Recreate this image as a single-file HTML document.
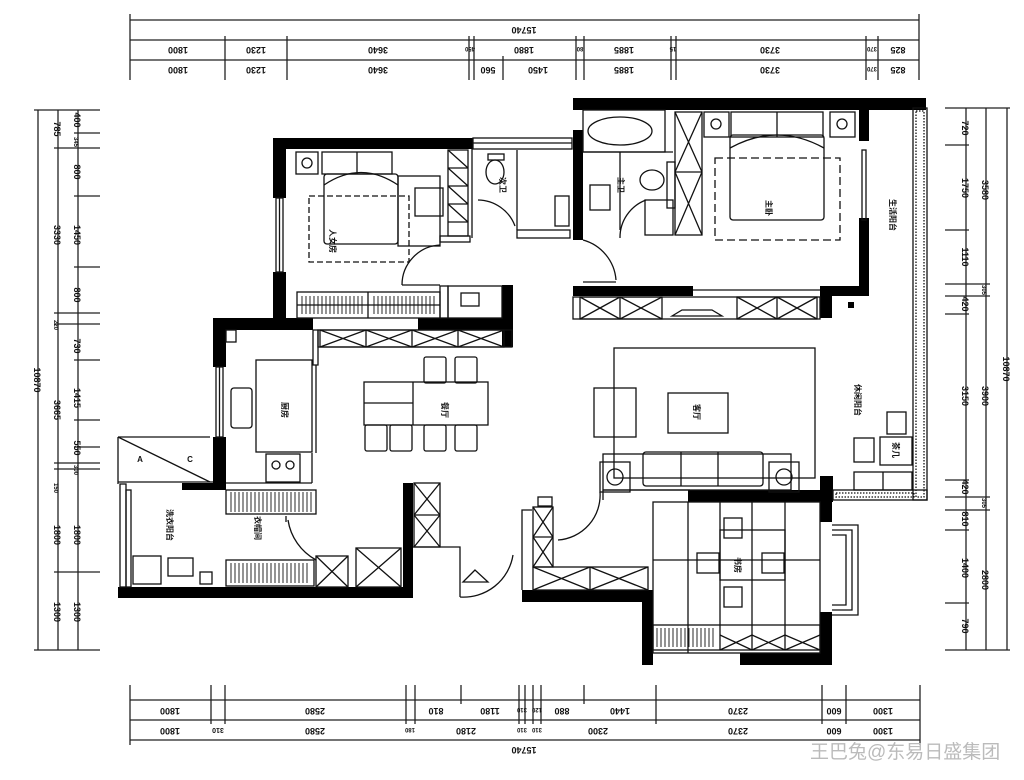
<!DOCTYPE html>
<html><head><meta charset="utf-8"><style>
html,body{margin:0;padding:0;background:#fff;}
svg{display:block;}
.d{font-family:"Liberation Sans",sans-serif;font-size:9px;font-weight:bold;fill:#111;}
.r{font-family:"Liberation Sans","Noto Sans CJK SC",sans-serif;font-size:8px;font-weight:bold;fill:#111;}
</style></head><body>
<svg width="1024" height="780" viewBox="0 0 1024 780" xmlns="http://www.w3.org/2000/svg">
<rect width="1024" height="780" fill="#fff"/>
<g stroke="#222" stroke-width="1.3" fill="none">
<line x1="130" y1="20" x2="919" y2="20"/>
<line x1="130" y1="40" x2="919" y2="40"/>
<line x1="130" y1="60" x2="919" y2="60"/>
<line x1="130" y1="14" x2="130" y2="80"/><line x1="919" y1="14" x2="919" y2="80"/>
<line x1="225" y1="36" x2="225" y2="80"/><line x1="287" y1="36" x2="287" y2="80"/>
<line x1="469" y1="36" x2="469" y2="80"/><line x1="474" y1="36" x2="474" y2="80"/>
<line x1="503" y1="56" x2="503" y2="80"/>
<line x1="576" y1="36" x2="576" y2="80"/><line x1="584" y1="36" x2="584" y2="80"/>
<line x1="671" y1="36" x2="671" y2="80"/><line x1="676" y1="36" x2="676" y2="80"/>
<line x1="866" y1="36" x2="866" y2="80"/><line x1="878" y1="36" x2="878" y2="80"/>
<line x1="130" y1="700" x2="920" y2="700"/>
<line x1="130" y1="720" x2="920" y2="720"/>
<line x1="130" y1="740" x2="920" y2="740"/>
<line x1="130" y1="685" x2="130" y2="745"/><line x1="920" y1="685" x2="920" y2="745"/>
<line x1="211" y1="685" x2="211" y2="724"/><line x1="225" y1="685" x2="225" y2="724"/>
<line x1="406" y1="685" x2="406" y2="724"/><line x1="415" y1="685" x2="415" y2="724"/>
<line x1="461" y1="685" x2="461" y2="704"/>
<line x1="519" y1="685" x2="519" y2="724"/><line x1="525" y1="685" x2="525" y2="724"/>
<line x1="533" y1="685" x2="533" y2="724"/><line x1="541" y1="685" x2="541" y2="724"/>
<line x1="584" y1="685" x2="584" y2="704"/><line x1="656" y1="685" x2="656" y2="724"/>
<line x1="822" y1="685" x2="822" y2="724"/><line x1="846" y1="685" x2="846" y2="724"/>
<line x1="38" y1="110" x2="38" y2="650"/>
<line x1="58" y1="110" x2="58" y2="650"/>
<line x1="78" y1="110" x2="78" y2="650"/>
<line x1="34" y1="110" x2="100" y2="110"/><line x1="34" y1="650" x2="100" y2="650"/>
<line x1="54" y1="148" x2="100" y2="148"/><line x1="74" y1="133" x2="100" y2="133"/>
<line x1="74" y1="196" x2="100" y2="196"/><line x1="74" y1="267" x2="100" y2="267"/>
<line x1="54" y1="313" x2="100" y2="313"/><line x1="54" y1="324" x2="100" y2="324"/>
<line x1="74" y1="360" x2="100" y2="360"/><line x1="74" y1="420" x2="100" y2="420"/>
<line x1="74" y1="447" x2="100" y2="447"/><line x1="54" y1="463" x2="100" y2="463"/>
<line x1="54" y1="469" x2="100" y2="469"/><line x1="54" y1="572" x2="100" y2="572"/>
<line x1="966" y1="108" x2="966" y2="650"/>
<line x1="986" y1="108" x2="986" y2="650"/>
<line x1="1007" y1="108" x2="1007" y2="650"/>
<line x1="945" y1="108" x2="1010" y2="108"/><line x1="945" y1="650" x2="1010" y2="650"/>
<line x1="945" y1="145" x2="969" y2="145"/><line x1="945" y1="230" x2="969" y2="230"/>
<line x1="945" y1="284" x2="990" y2="284"/><line x1="945" y1="296" x2="990" y2="296"/>
<line x1="945" y1="314" x2="969" y2="314"/><line x1="945" y1="480" x2="969" y2="480"/>
<line x1="945" y1="497" x2="990" y2="497"/><line x1="945" y1="510" x2="990" y2="510"/>
<line x1="945" y1="530" x2="969" y2="530"/><line x1="945" y1="603" x2="969" y2="603"/>
</g>
<g class="d" text-anchor="middle">
<text transform="translate(524,27) rotate(180)">15740</text>
<text transform="translate(178,47) rotate(180)">1800</text>
<text transform="translate(256,47) rotate(180)">1230</text>
<text transform="translate(378,47) rotate(180)">3640</text>
<text transform="translate(470,47) rotate(180)" font-size="6">450</text>
<text transform="translate(524,47) rotate(180)">1880</text>
<text transform="translate(580,47) rotate(180)" font-size="6">80</text>
<text transform="translate(624,47) rotate(180)">1885</text>
<text transform="translate(673,47) rotate(180)" font-size="6">15</text>
<text transform="translate(770,47) rotate(180)">3730</text>
<text transform="translate(872,47) rotate(180)" font-size="6">370</text>
<text transform="translate(898,47) rotate(180)">825</text>
<text transform="translate(178,67) rotate(180)">1800</text>
<text transform="translate(256,67) rotate(180)">1230</text>
<text transform="translate(378,67) rotate(180)">3640</text>
<text transform="translate(488,67) rotate(180)">560</text>
<text transform="translate(538,67) rotate(180)">1450</text>
<text transform="translate(624,67) rotate(180)">1885</text>
<text transform="translate(770,67) rotate(180)">3730</text>
<text transform="translate(872,67) rotate(180)" font-size="6">370</text>
<text transform="translate(898,67) rotate(180)">825</text>
<text transform="translate(170,708) rotate(180)">1800</text>
<text transform="translate(315,708) rotate(180)">2580</text>
<text transform="translate(436,708) rotate(180)">810</text>
<text transform="translate(490,708) rotate(180)">1180</text>
<text transform="translate(522,708) rotate(180)" font-size="6">310</text>
<text transform="translate(537,708) rotate(180)" font-size="6">120</text>
<text transform="translate(562,708) rotate(180)">880</text>
<text transform="translate(620,708) rotate(180)">1440</text>
<text transform="translate(738,708) rotate(180)">2370</text>
<text transform="translate(834,708) rotate(180)">600</text>
<text transform="translate(883,708) rotate(180)">1300</text>
<text transform="translate(170,728) rotate(180)">1800</text>
<text transform="translate(218,728) rotate(180)" font-size="7">310</text>
<text transform="translate(315,728) rotate(180)">2580</text>
<text transform="translate(410,728) rotate(180)" font-size="6">180</text>
<text transform="translate(466,728) rotate(180)">2180</text>
<text transform="translate(522,728) rotate(180)" font-size="6">310</text>
<text transform="translate(537,728) rotate(180)" font-size="6">310</text>
<text transform="translate(598,728) rotate(180)">2300</text>
<text transform="translate(738,728) rotate(180)">2370</text>
<text transform="translate(834,728) rotate(180)">600</text>
<text transform="translate(883,728) rotate(180)">1300</text>
<text transform="translate(524,747) rotate(180)">15740</text>
<text transform="translate(34,380) rotate(90)">10870</text>
<text transform="translate(54,129) rotate(90)">785</text>
<text transform="translate(54,235) rotate(90)">3330</text>
<text transform="translate(54,325) rotate(90)" font-size="6">220</text>
<text transform="translate(54,410) rotate(90)">3665</text>
<text transform="translate(54,488) rotate(90)" font-size="6">150</text>
<text transform="translate(54,535) rotate(90)">1800</text>
<text transform="translate(54,612) rotate(90)">1300</text>
<text transform="translate(74,120) rotate(90)">400</text>
<text transform="translate(74,142) rotate(90)" font-size="6">345</text>
<text transform="translate(74,172) rotate(90)">800</text>
<text transform="translate(74,235) rotate(90)">1450</text>
<text transform="translate(74,295) rotate(90)">800</text>
<text transform="translate(74,346) rotate(90)">730</text>
<text transform="translate(74,398) rotate(90)">1415</text>
<text transform="translate(74,448) rotate(90)">550</text>
<text transform="translate(74,470) rotate(90)" font-size="6">300</text>
<text transform="translate(74,535) rotate(90)">1800</text>
<text transform="translate(74,612) rotate(90)">1300</text>
<text transform="translate(962,128) rotate(90)">720</text>
<text transform="translate(962,188) rotate(90)">1750</text>
<text transform="translate(962,257) rotate(90)">1110</text>
<text transform="translate(962,304) rotate(90)">420</text>
<text transform="translate(962,396) rotate(90)">3150</text>
<text transform="translate(962,487) rotate(90)">420</text>
<text transform="translate(962,519) rotate(90)">810</text>
<text transform="translate(962,568) rotate(90)">1400</text>
<text transform="translate(962,626) rotate(90)">790</text>
<text transform="translate(982,190) rotate(90)">3580</text>
<text transform="translate(982,290) rotate(90)" font-size="6">305</text>
<text transform="translate(982,396) rotate(90)">3900</text>
<text transform="translate(982,503) rotate(90)" font-size="6">305</text>
<text transform="translate(982,580) rotate(90)">2800</text>
<text transform="translate(1003,369) rotate(90)">10870</text>
</g>

<g fill="#000">
<rect x="273" y="138" width="200" height="11"/>
<rect x="273" y="138" width="13" height="60"/>
<rect x="273" y="272" width="13" height="48"/>
<rect x="502" y="285" width="11" height="62"/>
<rect x="418" y="318" width="95" height="12"/>
<rect x="213" y="318" width="100" height="12"/>
<rect x="213" y="318" width="13" height="49"/>
<rect x="213" y="437" width="13" height="53"/>
<rect x="182" y="483" width="43" height="7"/>
<rect x="118" y="587" width="295" height="11"/>
<rect x="403" y="483" width="10" height="115"/>
<rect x="573" y="98" width="353" height="12"/>
<rect x="573" y="130" width="10" height="110"/>
<rect x="859" y="108" width="10" height="33"/>
<rect x="859" y="218" width="10" height="68"/>
<rect x="573" y="286" width="120" height="10"/>
<rect x="820" y="286" width="49" height="10"/>
<rect x="820" y="286" width="12" height="32"/>
<rect x="848" y="302" width="6" height="6"/>
<rect x="688" y="490" width="144" height="12"/>
<rect x="820" y="476" width="13" height="26"/>
<rect x="820" y="502" width="12" height="20"/>
<rect x="820" y="612" width="12" height="43"/>
<rect x="740" y="653" width="92" height="12"/>
<rect x="642" y="598" width="11" height="67"/>
<rect x="522" y="590" width="131" height="12"/>
</g>

<g stroke="#111" stroke-width="1.3" fill="none">
<rect x="276" y="198" width="7" height="74"/><line x1="279.5" y1="198" x2="279.5" y2="272"/>
<rect x="216" y="367" width="7" height="70"/><line x1="219.5" y1="367" x2="219.5" y2="437"/>
<rect x="120" y="484" width="6" height="103"/><rect x="126" y="490" width="5" height="97"/>
<line x1="118" y1="437" x2="210" y2="437"/><line x1="118" y1="437" x2="118" y2="484"/>
<line x1="118" y1="437" x2="210" y2="482"/><line x1="118" y1="482" x2="213" y2="482"/>
<rect x="473" y="138" width="99" height="11"/><line x1="473" y1="143" x2="572" y2="143"/>
<line x1="472" y1="149" x2="472" y2="238"/>
<rect x="517" y="230" width="53" height="8"/>
<line x1="517" y1="150" x2="517" y2="230"/>
<ellipse cx="495" cy="172" rx="9" ry="12"/>
<rect x="488" y="154" width="16" height="6"/>
<rect x="555" y="196" width="14" height="30"/>
<rect x="296" y="152" width="22" height="22"/><circle cx="307" cy="163" r="5"/>
<rect x="322" y="152" width="70" height="22"/><line x1="357" y1="152" x2="357" y2="174"/>
<rect x="324" y="174" width="74" height="70" rx="3"/>
<path d="M324 185 Q361 160 398 185"/>
<rect x="309" y="196" width="100" height="66" stroke-dasharray="6,3"/>
<rect x="415" y="188" width="28" height="28"/>
<rect x="398" y="176" width="42" height="70"/>
<rect x="448" y="150" width="20" height="86"/>
<line x1="448" y1="168" x2="468" y2="168"/><line x1="448" y1="186" x2="468" y2="186"/><line x1="448" y1="204" x2="468" y2="204"/><line x1="448" y1="222" x2="468" y2="222"/>
<path d="M448 150 L468 168 M448 168 L468 186 M448 186 L468 204 M448 204 L468 222"/>
<rect x="440" y="236" width="30" height="6"/>
<path d="M440 245 A40 40 0 0 0 402 285"/><line x1="402" y1="285" x2="440" y2="285"/>
<path d="M478 200 A40 40 0 0 1 515 226"/>
<rect x="297" y="292" width="143" height="26"/>
<line x1="368" y1="292" x2="368" y2="318"/><line x1="297" y1="305" x2="440" y2="305"/>
<g stroke-width="0.9">
<path d="M302 296v18M306 296v18M310 296v18M314 296v18M318 296v18M322 296v18M326 296v18M330 296v18M334 296v18M338 296v18M342 296v18M346 296v18M350 296v18M354 296v18M358 296v18M362 296v18M374 296v18M378 296v18M382 296v18M386 296v18M390 296v18M394 296v18M398 296v18M402 296v18M406 296v18M410 296v18M414 296v18M418 296v18M422 296v18M426 296v18M430 296v18M434 296v18"/>
</g>
<rect x="440" y="286" width="8" height="32"/>
<rect x="448" y="286" width="54" height="32"/>
<rect x="461" y="293" width="18" height="13"/>
<rect x="318" y="330" width="194" height="17"/>
<path d="M320 330h46v17h-46zM366 330h46v17h-46zM412 330h46v17h-46zM458 330h46v17h-46z"/>
<path d="M320 330L366 347M366 330L320 347M366 330L412 347M412 330L366 347M412 330L458 347M458 330L412 347M458 330L504 347M504 330L458 347"/>
<path d="M313 330h5v35h-5zM316 365v88"/>
<rect x="256" y="360" width="56" height="92"/>
<rect x="231" y="388" width="21" height="40" rx="3"/>
<rect x="266" y="454" width="34" height="28"/>
<circle cx="276" cy="465" r="4"/><circle cx="290" cy="465" r="4"/>
<rect x="226" y="330" width="10" height="12"/>
<line x1="226" y1="483" x2="312" y2="483"/><line x1="312" y1="453" x2="312" y2="483"/>
<rect x="364" y="382" width="124" height="43"/><line x1="413" y1="382" x2="413" y2="425"/><line x1="364" y1="403" x2="413" y2="403"/>
<rect x="424" y="357" width="22" height="26" rx="2"/><rect x="455" y="357" width="22" height="26" rx="2"/>
<rect x="365" y="425" width="22" height="26" rx="2"/><rect x="390" y="425" width="22" height="26" rx="2"/>
<rect x="424" y="425" width="22" height="26" rx="2"/><rect x="455" y="425" width="22" height="26" rx="2"/>
<rect x="226" y="490" width="90" height="24"/>
<rect x="226" y="560" width="88" height="26"/>
<g stroke-width="0.9">
<path d="M231 492v20M235 492v20M239 492v20M243 492v20M247 492v20M251 492v20M255 492v20M259 492v20M263 492v20M267 492v20M271 492v20M275 492v20M279 492v20M283 492v20M287 492v20M291 492v20M295 492v20M299 492v20M303 492v20M307 492v20M311 492v20"/>
<path d="M231 563v20M235 563v20M239 563v20M243 563v20M247 563v20M251 563v20M255 563v20M259 563v20M263 563v20M267 563v20M271 563v20M275 563v20M279 563v20M283 563v20M287 563v20M291 563v20M295 563v20M299 563v20M303 563v20M307 563v20"/>
</g>
<path d="M288 520 A55 55 0 0 0 316 560"/><line x1="286" y1="516" x2="286" y2="522"/>
<rect x="316" y="556" width="32" height="31"/><path d="M316 556L348 587M348 556L316 587"/>
<rect x="356" y="548" width="45" height="39"/><path d="M356 548L401 587M401 548L356 587"/>
<rect x="133" y="556" width="28" height="28"/>
<rect x="168" y="558" width="25" height="18"/>
<rect x="200" y="572" width="12" height="12"/>
<rect x="414" y="483" width="26" height="64"/><path d="M414 483L440 515M440 483L414 515M414 515L440 547M440 515L414 547M414 515h26"/>
<path d="M413 547h47v20h0M460 547v50"/>
<path d="M460 597 A50 50 0 0 0 513 555"/>
<path d="M475 570l-12 12h25z"/>
<path d="M522 590V510h10"/>
<rect x="533" y="507" width="20" height="60"/><path d="M533 507L553 537M553 507L533 537M533 537L553 567M553 537L533 567M533 537h20"/>
<rect x="538" y="497" width="14" height="9"/>
<rect x="533" y="567" width="115" height="23"/><line x1="590" y1="567" x2="590" y2="590"/>
<path d="M533 567L590 590M590 567L533 590M590 567L648 590M648 567L590 590"/>
<path d="M558 540 A45 45 0 0 0 600 492"/>
<rect x="614" y="348" width="201" height="130"/>
<rect x="594" y="388" width="42" height="49"/>
<rect x="668" y="393" width="60" height="40"/>
<rect x="603" y="454" width="188" height="36"/>
<rect x="643" y="452" width="120" height="34" rx="3"/>
<line x1="681" y1="452" x2="681" y2="486"/><line x1="718" y1="452" x2="718" y2="486"/>
<rect x="600" y="462" width="30" height="30"/><circle cx="615" cy="477" r="8"/>
<rect x="769" y="462" width="30" height="30"/><circle cx="784" cy="477" r="8"/>
<line x1="603" y1="490" x2="690" y2="490"/><line x1="603" y1="490" x2="603" y2="500"/>
<rect x="913" y="108" width="14" height="392"/><rect x="916" y="111" width="8" height="386" stroke-dasharray="1.5,1.5"/>
<rect x="833" y="490" width="94" height="10"/><rect x="836" y="493" width="78" height="4" stroke-dasharray="1.5,1.5"/>
<rect x="854" y="438" width="20" height="24"/>
<rect x="880" y="437" width="32" height="28"/>
<rect x="887" y="412" width="19" height="22"/>
<rect x="854" y="472" width="58" height="18"/><line x1="883" y1="472" x2="883" y2="490"/>
<rect x="862" y="150" width="4" height="70"/>
<rect x="583" y="110" width="82" height="42"/>
<ellipse cx="620" cy="131" rx="32" ry="14"/>
<line x1="583" y1="152" x2="673" y2="152"/>
<line x1="620" y1="152" x2="620" y2="230"/>
<rect x="590" y="185" width="20" height="25"/>
<ellipse cx="652" cy="180" rx="12" ry="10"/>
<rect x="667" y="162" width="8" height="46"/>
<rect x="675" y="112" width="27" height="123"/><line x1="675" y1="172" x2="702" y2="172"/>
<path d="M675 112L702 172M702 112L675 172M675 172L702 235M702 172L675 235"/>
<path d="M583 240 A45 45 0 0 1 616 280"/><line x1="583" y1="282" x2="616" y2="282"/>
<path d="M646 200 A40 40 0 0 0 620 238"/>
<rect x="645" y="200" width="28" height="35"/>
<rect x="704" y="112" width="25" height="25"/><circle cx="716" cy="124" r="5"/>
<rect x="830" y="112" width="25" height="25"/><circle cx="842" cy="124" r="5"/>
<rect x="731" y="112" width="92" height="25"/><line x1="777" y1="112" x2="777" y2="137"/>
<rect x="730" y="135" width="94" height="85" rx="3"/>
<path d="M730 148 Q777 122 824 148"/>
<rect x="715" y="158" width="125" height="82" stroke-dasharray="8,4"/>
<rect x="573" y="297" width="247" height="22"/>
<path d="M580 297h40v22h-40zM620 297h42v22h-42zM737 297h40v22h-40zM777 297h40v22h-40z"/>
<path d="M580 297L620 319M620 297L580 319M620 297L662 319M662 297L620 319M737 297L777 319M777 297L737 319M777 297L817 319M817 297L777 319"/>
<path d="M672 316l10-6h30l10 6z"/>
<line x1="693" y1="290" x2="820" y2="290"/>
<rect x="653" y="502" width="167" height="151"/>
<line x1="688" y1="502" x2="688" y2="653"/><line x1="720" y1="502" x2="720" y2="625"/>
<line x1="752" y1="502" x2="752" y2="625"/><line x1="785" y1="502" x2="785" y2="625"/>
<line x1="653" y1="560" x2="820" y2="560"/>
<rect x="720" y="530" width="65" height="50"/>
<rect x="724" y="518" width="18" height="20"/><rect x="724" y="587" width="18" height="20"/>
<rect x="697" y="553" width="22" height="20"/><rect x="762" y="553" width="22" height="20"/>
<rect x="653" y="625" width="167" height="25"/>
<line x1="720" y1="625" x2="720" y2="650"/><line x1="752" y1="625" x2="752" y2="650"/><line x1="785" y1="625" x2="785" y2="650"/>
<g stroke-width="0.9"><path d="M657 628v19M661 628v19M665 628v19M669 628v19M673 628v19M677 628v19M681 628v19M685 628v19M689 628v19M693 628v19M697 628v19M701 628v19M705 628v19M709 628v19M713 628v19"/></g>
<path d="M720 635L752 650M752 635L720 650M752 635L785 650M785 635L752 650M785 635L820 650M820 635L785 650"/>
<path d="M832 525h26v90h-26M832 530h20v80h-20M832 535h14v70h-14"/>
</g>

<g class="r" text-anchor="middle">
<text transform="translate(330,241) rotate(90)">人女房</text>
<text transform="translate(500,185) rotate(90)">次卫</text>
<text transform="translate(618,185) rotate(90)">主卫</text>
<text transform="translate(766,208) rotate(90)">主卧</text>
<text transform="translate(890,215) rotate(90)">生活阳台</text>
<text transform="translate(282,410) rotate(90)">厨房</text>
<text transform="translate(442,410) rotate(90)">餐厅</text>
<text transform="translate(694,412) rotate(90)">客厅</text>
<text transform="translate(855,400) rotate(90)">休闲阳台</text>
<text transform="translate(735,565) rotate(90)">书房</text>
<text transform="translate(167,525) rotate(90)">洗衣阳台</text>
<text transform="translate(255,528) rotate(90)">衣帽间</text>
<text transform="translate(893,450) rotate(90)">茶几</text>
<text x="140" y="462">A</text><text x="190" y="462">C</text>
</g>

<text x="810" y="758" font-family="'Liberation Sans','Noto Sans CJK SC',sans-serif" font-size="19" fill="#bbb">王巴兔@东易日盛集团</text>
</svg>
</body></html>
